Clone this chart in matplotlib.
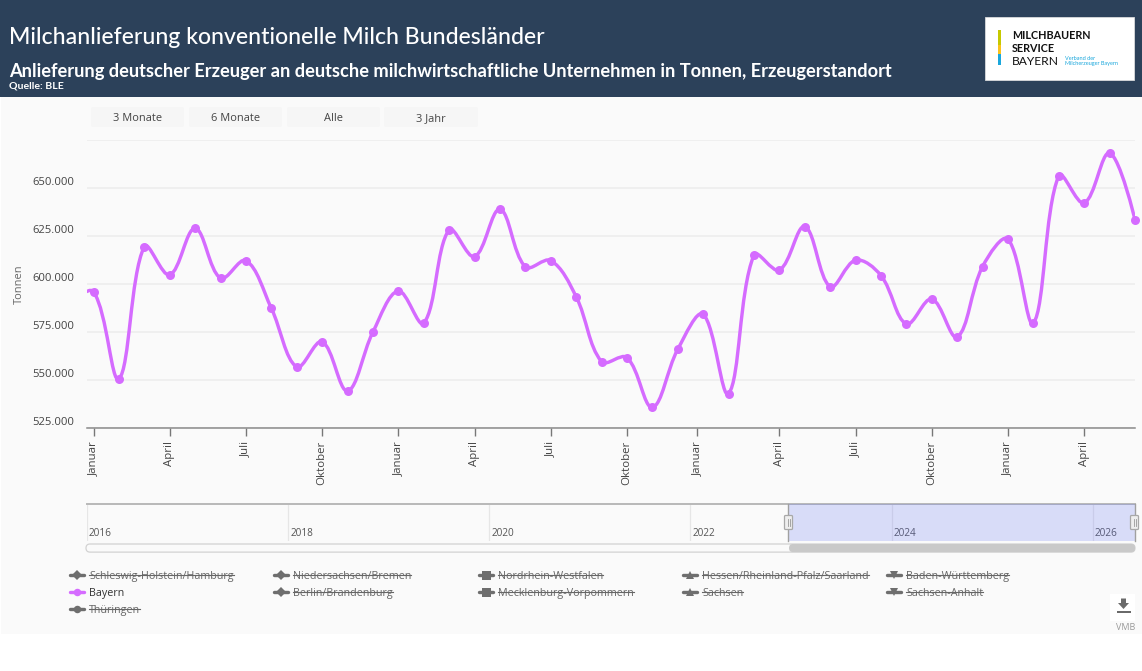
import numpy as np
import pandas as pd
import matplotlib
matplotlib.use("Agg")
import matplotlib.pyplot as plt
from matplotlib.path import Path
from matplotlib.patches import PathPatch, Rectangle, FancyBboxPatch, Polygon

W, H = 1142, 671
TITLE = "Milchanlieferung konventionelle Milch Bundesländer"
SUBTITLE = "Anlieferung deutscher Erzeuger an deutsche milchwirtschaftliche Unternehmen in Tonnen, Erzeugerstandort"
SOURCE = "Quelle: BLE"
BUTTONS = ["3 Monate", "6 Monate", "Alle", "3 Jahr"]

months = pd.date_range("2022-12-01", "2026-06-01", freq="MS")
bayern = [589.0,
          595.8, 550.4, 619.3, 604.5, 628.8, 602.8, 612.0, 587.2, 556.6, 569.8, 544.1, 574.8,
          596.2, 579.4, 628.0, 614.0, 638.7, 608.7, 612.0, 593.2, 559.4, 561.5, 535.6, 565.8,
          584.0, 542.7, 614.9, 607.0, 629.7, 598.4, 612.2, 604.2, 579.0, 592.0, 572.2, 608.9,
          623.1, 579.4, 656.2, 641.9, 668.0, 633.2]

y_ticks = [525, 550, 575, 600, 625, 650, 675]
y_labels = ["525.000", "550.000", "575.000", "600.000", "625.000", "650.000", ""]
# month positions counted from the first point (Dez 2022 = 0)
x_tick_pos = [1, 4, 7, 10, 13, 16, 19, 22, 24.76, 28, 31, 34, 37, 40]
x_tick_labels = ["Januar", "April", "Juli", "Oktober"] * 2 + ["Januar", "April", "Juli", "Oktober", "Januar", "April"]
slider_years = [2016, 2018, 2020, 2022, 2024, 2026]
window = (2022.97, 2026.42)
slider_range = (2016.0, 2026.42)

legend_rows = [
    [("Schleswig-Holstein/Hamburg", "D"), ("Niedersachsen/Bremen", "D"), ("Nordrhein-Westfalen", "s"),
     ("Hessen/Rheinland-Pfalz/Saarland", "^"), ("Baden-Württemberg", "v")],
    [("Bayern", "o"), ("Berlin/Brandenburg", "D"), ("Mecklenburg-Vorpommern", "s"), ("Sachsen", "^"),
     ("Sachsen-Anhalt", "v")],
    [("Thüringen", "o")],
]

UI = ["Open Sans", "DejaVu Sans"]
HEAD = ["Lato", "DejaVu Sans"]
LINE = "#d56bff"
BG = "#fafafa"
px = 0.72  # points per pixel at dpi 100

plt.rcParams["font.family"] = UI
fig = plt.figure(figsize=(W / 100, H / 100), dpi=100, facecolor="white")


def rect(x0, y0, x1, y1):
    return [x0 / W, 1 - y1 / H, (x1 - x0) / W, (y1 - y0) / H]


def pixel_axes(z):
    a = fig.add_axes([0, 0, 1, 1], zorder=z)
    a.set_xlim(0, W)
    a.set_ylim(H, 0)
    a.axis("off")
    a.patch.set_alpha(0)
    return a


# page furniture, in pixel coordinates
back = pixel_axes(0)
ui = pixel_axes(3)
back.add_patch(Rectangle((1, 96), W, 538, fc=BG, ec="none"))
back.add_patch(Rectangle((0, 0), W, 96.5, fc="#2c415a", ec="none"))
ui.text(9, 37, TITLE, color="white", fontsize=23.0 * px, family=HEAD, va="center", weight="medium")
ui.text(9, 71, SUBTITLE, color="white", fontsize=18.25 * px, family=HEAD, va="center", weight="bold")
ui.text(9, 86.5, SOURCE, color="white", fontsize=10.5 * px, family=HEAD, va="center", weight="bold")

# logo
ui.add_patch(Rectangle((985, 17), 148.5, 62.5, fc="white", ec="#d8dadd", lw=0.6))
for (a, b, c) in [(30, 45, "#c6c900"), (45, 54, "#fcc21b"), (54, 65, "#1aa7dc")]:
    ui.add_patch(Rectangle((998, a), 3, b - a, fc=c, ec="none"))
ui.text(1012, 39, "MILCHBAUERN", fontsize=10.7 * px, family=HEAD, weight="bold", color="#111")
ui.text(1012, 51.5, "SERVICE", fontsize=10.7 * px, family=HEAD, weight="bold", color="#111")
ui.text(1012, 65, "BAYERN", fontsize=12 * px, family=HEAD, color="#111")
ui.text(1065, 60, "Verband der", fontsize=5.5 * px, family=HEAD, color="#1aa7dc")
ui.text(1065, 64.5, "Milcherzeuger Bayern", fontsize=5.5 * px, family=HEAD, color="#1aa7dc")

# range buttons
for (x0, x1), label in zip([(91, 184), (189, 282), (287, 380), (384, 478)], BUTTONS):
    ui.add_patch(FancyBboxPatch((x0 + 2, 109), x1 - x0 - 4, 16, boxstyle="round,pad=2", fc="#f6f6f6", ec="none"))
    ui.text((x0 + x1) / 2, 121, label, fontsize=11 * px, color="#444", ha="center")

# main chart
ax = fig.add_axes(rect(87, 139.5, 1135, 427.7), zorder=2)
ax.patch.set_alpha(0)
ax.set_xlim(1 - 6.5 / 25.4, 42)
ax.set_ylim(525, 675)
for s in ["top", "right", "left"]:
    ax.spines[s].set_visible(False)
ax.spines["bottom"].set_color("#8a8a8a")
ax.spines["bottom"].set_linewidth(1.1)
ax.set_axisbelow(True)
ax.yaxis.grid(True, color="#ececec", lw=1.1)
ax.xaxis.grid(False)
ax.set_yticks(y_ticks)
ax.set_yticklabels(y_labels, fontsize=11.3 * px, color="#444", va="bottom")
ax.tick_params(axis="y", length=0, pad=9)
ax.set_xticks(x_tick_pos)
ax.set_xticklabels(x_tick_labels, rotation=90, fontsize=11.5 * px, color="#444")
ax.tick_params(axis="x", length=6, width=1, color="#777", pad=3.5)
ax.set_ylabel("Tonnen", fontsize=11 * px, color="#666", labelpad=0)
ax.yaxis.set_label_coords((25 - 87) / 1048, (427.7 - 284) / 288.2)

xs = np.arange(len(months), dtype=float)
ys = np.array(bayern)
sx, sy = 25.4, 288.2 / 150  # pixels per data unit
smooth = 0.36
verts, codes = [(xs[0], ys[0])], [Path.MOVETO]
handles = []
for i in range(len(xs)):
    if i == 0 or i == len(xs) - 1:
        handles.append(((xs[i], ys[i]), (xs[i], ys[i])))
        continue
    vx, vy = xs[i + 1] - xs[i - 1], ys[i + 1] - ys[i - 1]
    d0 = np.hypot((xs[i] - xs[i - 1]) * sx, (ys[i] - ys[i - 1]) * sy)
    d1 = np.hypot((xs[i + 1] - xs[i]) * sx, (ys[i + 1] - ys[i]) * sy)
    r = d1 / (d0 + d1)
    handles.append(((xs[i] - vx * smooth * (1 - r), ys[i] - vy * smooth * (1 - r)),
                    (xs[i] + vx * smooth * r, ys[i] + vy * smooth * r)))
for i in range(len(xs) - 1):
    verts += [handles[i][1], handles[i + 1][0], (xs[i + 1], ys[i + 1])]
    codes += [Path.CURVE4] * 3
ax.add_patch(PathPatch(Path(verts, codes), fc="none", ec=LINE, lw=3.4 * px, capstyle="round", zorder=3))
vis = xs >= ax.get_xlim()[0]
ax.plot(xs[vis], ys[vis], ls="none", marker="o", ms=9 * px, mfc=LINE, mec=LINE, mew=0, clip_on=False, zorder=4)

# range slider
sl = fig.add_axes(rect(87, 504, 1135, 541), zorder=2)
sl.set_xlim(*slider_range)
sl.set_ylim(0, 1)
sl.patch.set_alpha(0)
for s in ["bottom", "left", "right"]:
    sl.spines[s].set_visible(False)
sl.spines["top"].set_color("#b8b8b8")
sl.spines["top"].set_linewidth(1.4)
sl.set_xticks([])
sl.set_yticks([])
for yr in slider_years:
    sl.axvline(yr, color="#e6e6e6", lw=0.9)
    sl.text(yr + 0.02, 0.2, str(yr), fontsize=10 * px, color="#555", va="center")
sl.axvspan(*window, fc="#6272f5", alpha=0.22, ec="none", zorder=3)
for xv in window:
    sl.axvline(xv, color="#a0a0a0", lw=1, zorder=4, clip_on=False)

# scroll bar
ui.add_patch(FancyBboxPatch((90, 548), 1041, 0.1, boxstyle="round,pad=4", fc=BG, ec="#d2d2d2", lw=0.9))
ui.add_patch(FancyBboxPatch((793, 548), 338, 0.1, boxstyle="round,pad=4", fc="#c9c9c9", ec="none", zorder=3))
for xh in (788.5, 1134.5):
    ui.add_patch(FancyBboxPatch((xh - 3, 516.5), 6, 12, boxstyle="round,pad=1", fc="#eeeeee", ec="#a8a8a8", lw=0.9, zorder=6))
    ui.plot([xh - 1, xh - 1], [519, 526], color="#999", lw=0.6, zorder=7)
    ui.plot([xh + 1, xh + 1], [519, 526], color="#999", lw=0.6, zorder=7)

# legend
col_x = [69, 273, 478, 682, 886]
row_y = [575, 592, 609]
renderer = fig.canvas.get_renderer()
for ry, row in zip(row_y, legend_rows):
    for cx, (name, mk) in zip(col_x, row):
        on = name == "Bayern"
        c = LINE if on else "#6e6e6e"
        ui.plot([cx + 1, cx + 15], [ry, ry], color=c, lw=3.4 * px, solid_capstyle="round", zorder=5)
        ui.plot([cx + 8], [ry], marker=mk, ms=(7.5 if mk in "oD^v" else 9) * px, color=c, mew=0, zorder=5)
        t = ui.text(cx + 20, ry + 4, name, fontsize=10.7 * px, color="#333" if on else "#666")
        if not on:
            bb = t.get_window_extent(renderer)
            ui.plot([cx + 20, cx + 20 + bb.width], [ry, ry], color="#666", lw=0.8, zorder=5)

# download button and credit
ui.add_patch(Rectangle((1110, 594), 25, 27, fc="white", ec="none"))
ui.add_patch(Rectangle((1116.5, 610.5), 14, 2.5, fc="#6a6a6a", ec="none"))
ui.add_patch(Polygon([(1121, 598.5), (1126, 598.5), (1126, 603), (1129, 603), (1123.5, 609), (1118, 603), (1121, 603)], fc="#6a6a6a", ec="none"))
ui.text(1135, 628, "VMB", fontsize=9 * px, color="#999", ha="right", va="center")

fig.savefig("out.png", dpi=100, facecolor="white")
